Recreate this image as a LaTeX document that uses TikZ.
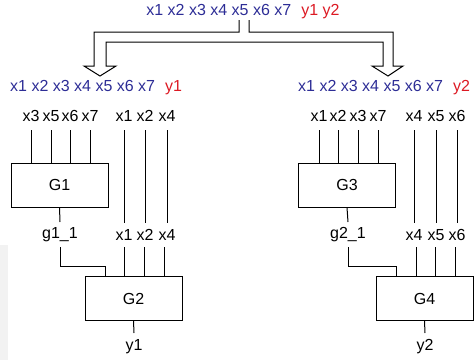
\documentclass[tikz,border=0pt]{standalone}
\usepackage{fontspec}
\setmainfont{Liberation Sans}
\usepackage{tikz}
\usetikzlibrary{positioning}
\definecolor{xblue}{RGB}{45,45,150}
\definecolor{yred}{RGB}{220,25,35}

\begin{document}
\begin{tikzpicture}
   [x=1pt, y=-1pt,
    font=\fontsize{16}{19}\selectfont,
    lab/.style={inner sep=0pt, anchor=center},
    gate/.style={draw, line width=1pt, minimum width=97pt, minimum height=44pt, inner sep=0pt},
    wire/.style={draw, line width=1pt}]
     \useasboundingbox (0,0) rectangle (474,360);
     \fill[black!5] (0,245) rectangle (8,360);
     % variable sets
     \node (all) [lab] at (243,12) {\color{xblue}x1 x2 x3 x4 x5 x6 x7\hspace{0.35em} \color{yred}y1 y2};
     \node (set1) [lab, anchor=west] at (10,88) {\color{xblue}x1 x2 x3 x4 x5 x6 x7\hspace{0.35em} \color{yred}y1};
     \node (set2) [lab, anchor=west] at (298,88) {\color{xblue}x1 x2 x3 x4 x5 x6 x7\hspace{0.35em} \color{yred}y2};
     % split arrow
     \draw [line width=1pt] (239,20) -- (239,32) -- (94,32) -- (94,66) -- (84,66) -- (100,76) -- (116,66)
        -- (106,66) -- (106,42) -- (383,42) -- (383,66) -- (372,66) -- (388,76) -- (403,66)
        -- (393,66) -- (393,32) -- (249,32) -- (249,20);
     % gates
     \node (g1) [gate] at (59.5,185) {G1};
     \node (g2) [gate] at (133.5,298.5) {G2};
     \node (g3) [gate] at (347,185) {G3};
     \node (g4) [gate] at (424.5,298.5) {G4};
     % inputs of G1 and G3
     \foreach \v/\x in {3/31, 5/51, 6/70, 7/90} {
       \node (a\v) [lab] at (\x,116) {x\v};
       \draw [wire] (\x,130) -- (\x,0 |- g1.north);
     };
     \foreach \v/\x in {1/319, 2/338, 3/358, 7/378} {
       \node (c\v) [lab] at (\x,116) {x\v};
       \draw [wire] (\x,130) -- (\x,0 |- g3.north);
     };
     % passed-through variables
     \foreach \v/\x/\u in {1/124/124, 2/145/144, 4/167/164} {
       \node (b\v) [lab] at (\x,116) {x\v};
       \node (d\v) [lab] at (\x,235) {x\v};
       \draw [wire] (\x,130) -- (\x,223);
       \draw [wire] (\u,247) -- (\u,0 |- g2.north);
     };
     \foreach \v/\x/\u in {4/414/416, 5/436/435, 6/457/455} {
       \node (e\v) [lab] at (\x,116) {x\v};
       \node (f\v) [lab] at (\x,235) {x\v};
       \draw [wire] (\x,130) -- (\x,223);
       \draw [wire] (\u,247) -- (\u,0 |- g4.north);
     };
     % intermediate outputs
     \node (o1) [lab] at (60,235) {g1\_1};
     \node (o2) [lab] at (348,235) {g2\_1};
     \draw [wire] (g1.south) -- (60,222);
     \draw [wire] (60,247) -- (60,266) -- (105,266) -- (105,0 |- g2.north);
     \draw [wire] (g3.south) -- (348,222);
     \draw [wire] (348,247) -- (348,266) -- (396,266) -- (396,0 |- g4.north);
     % outputs
     \node (y1) [lab] at (134,347) {y1};
     \node (y2) [lab] at (425,347) {y2};
     \draw [wire] (g2.south) -- (134,333);
     \draw [wire] (g4.south) -- (425,333);
 \end{tikzpicture}
\end{document}
